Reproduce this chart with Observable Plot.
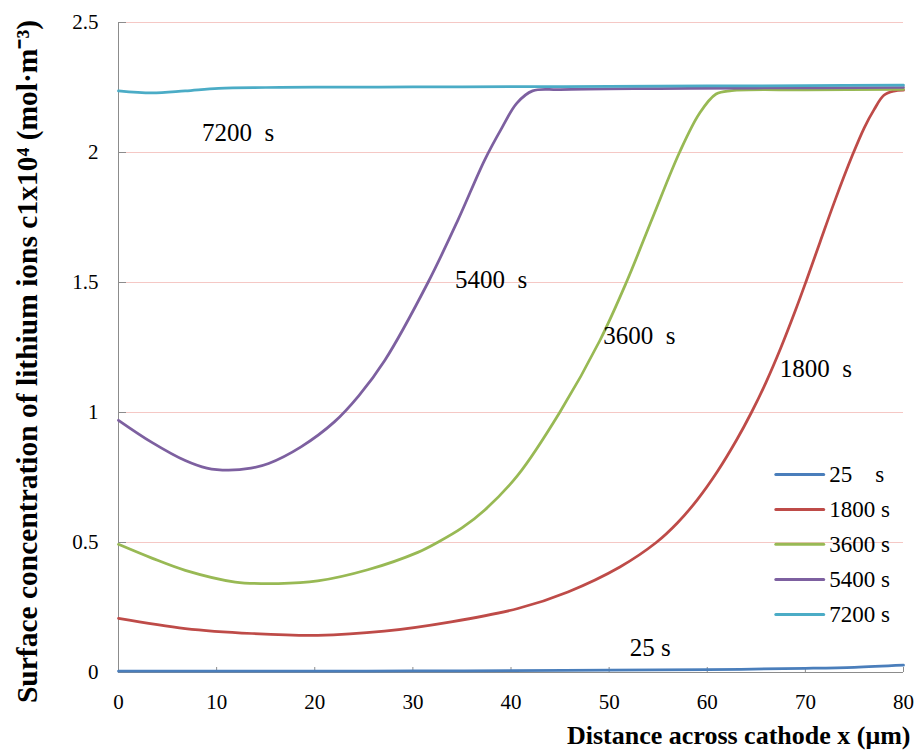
<!DOCTYPE html>
<html><head><meta charset="utf-8">
<script src="https://cdn.jsdelivr.net/npm/d3@7"></script>
<script src="https://cdn.jsdelivr.net/npm/@observablehq/plot@0.6"></script>
<style>
html,body{margin:0;padding:0;background:#fff;}
svg text{white-space:pre;}
</style></head><body><div id="chart"></div>
<script>
// ---- data ----
const NB = "\u00a0";
const seriesNames = ["25" + NB.repeat(4) + "s", "1800" + NB + "s", "3600" + NB + "s", "5400" + NB + "s", "7200" + NB + "s"];
const seriesColors = ["#4a7ebb", "#be4b48", "#98b954", "#7d60a0", "#4bacc6"];

const x25 = [0, 10, 20, 30, 40, 50, 60, 70, 75, 80];
const y25 = [0.005, 0.005, 0.005, 0.006, 0.007, 0.009, 0.011, 0.016, 0.02, 0.028];

const x1800 = [0, 6.8, 13.6, 20.3, 27.1, 33.9, 40.7, 45.8, 51.1, 54.8, 57, 59, 61, 63, 64.5, 66, 67.5, 69, 70.06, 71.5, 73, 74.8, 76, 77, 78, 79, 80];
const y1800 = [0.208, 0.169, 0.15, 0.143, 0.159, 0.195, 0.246, 0.31, 0.406, 0.5, 0.577, 0.665, 0.771, 0.895, 1.0, 1.117, 1.249, 1.394, 1.503, 1.656, 1.814, 1.99, 2.095, 2.165, 2.22, 2.236, 2.24];

const x3600 = [0, 3.4, 6.8, 11.9, 16.3, 20.3, 25.4, 30.5, 32.5, 35, 37.3, 40.7, 44.96, 49.03, 51.75, 54.46, 57.17, 59.2, 60.9, 62.5, 70, 80];
const y3600 = [0.493, 0.44, 0.393, 0.348, 0.342, 0.352, 0.395, 0.462, 0.5, 0.556, 0.624, 0.759, 1.0, 1.275, 1.5, 1.752, 2.0, 2.15, 2.225, 2.238, 2.241, 2.243];

const x5400 = [0, 3.4, 6.8, 9, 11.2, 13.5, 15.3, 18.6, 22.0, 24.5, 27.13, 31.54, 34.59, 37.3, 39.0, 40.6, 42.2, 45, 55, 65, 80];
const y5400 = [0.97, 0.885, 0.815, 0.786, 0.778, 0.786, 0.804, 0.868, 0.964, 1.065, 1.20, 1.50, 1.74, 1.97, 2.09, 2.19, 2.237, 2.242, 2.246, 2.248, 2.25];

const x7200 = [0, 3.4, 6.8, 10.2, 15, 20, 30, 40, 50, 60, 70, 80];
const y7200 = [2.237, 2.229, 2.237, 2.247, 2.25, 2.251, 2.252, 2.253, 2.254, 2.256, 2.257, 2.259];

const xTicks = [0, 10, 20, 30, 40, 50, 60, 70, 80];
const yTicks = [0, 0.5, 1, 1.5, 2, 2.5];

const annText = ["25" + NB + "s", "1800" + NB + NB + "s", "3600" + NB + NB + "s", "5400" + NB + NB + "s", "7200" + NB + NB + "s"];
const annX = [52.1, 67.4, 49.4, 34.3, 8.5];
const annY = [0.093, 1.167, 1.293, 1.509, 2.076];

const legendY = [0.762, 0.627, 0.493, 0.358, 0.223];

const yTitle = "Surface concentration of lithium ions c1x10\u2074 (mol\u00b7m\u207b\u00b3)";
const xTitle = "Distance across cathode x (\u03bcm)";

// ---- build tables ----
const FONT = "'Liberation Serif','Times New Roman',serif";
const xsAll = [x25, x1800, x3600, x5400, x7200];
const ysAll = [y25, y1800, y3600, y5400, y7200];
const rows = [];
seriesNames.forEach((s, i) => xsAll[i].forEach((x, j) => rows.push({series: s, x, y: ysAll[i][j]})));
const legendRows = seriesNames.map((s, i) => ({series: s, ly: legendY[i]}));
const annRows = annText.map((t, i) => ({t, x: annX[i], y: annY[i]}));

const chart = Plot.plot({
  width: 915,
  height: 756,
  marginLeft: 118,
  marginRight: 12,
  marginTop: 22,
  marginBottom: 84,
  style: {fontFamily: FONT, fontSize: "21px", color: "#000", background: "#fff"},
  x: {domain: [0, 80], ticks: xTicks, tickSize: 0, tickPadding: 22, label: null},
  y: {domain: [0, 2.5], ticks: yTicks, tickSize: 0, tickPadding: 20, tickFormat: d => String(d), label: null},
  color: {domain: seriesNames, range: seriesColors},
  marks: [
    Plot.ruleY(yTicks.filter(d => d > 0), {stroke: "#f5c8c5", strokeWidth: 1}),
    Plot.ruleX([0], {stroke: "#8c8c8c", strokeWidth: 1}),
    Plot.ruleY([0], {stroke: "#8c8c8c", strokeWidth: 1}),
    Plot.tickY(yTicks, {y: d => d, insetRight: 777, stroke: "#8c8c8c"}),
    Plot.tickX(xTicks, {x: d => d, insetTop: 645, stroke: "#8c8c8c"}),
    Plot.line(rows, {x: "x", y: "y", z: "series", stroke: "series", strokeWidth: 2.75, curve: "catmull-rom"}),
    Plot.ruleY(legendRows, {y: "ly", x1: 67.04, x2: 71.92, stroke: "series", strokeWidth: 3, strokeLinecap: "round"}),
    Plot.text(legendRows, {x: 72.43, y: "ly", text: "series", textAnchor: "start", fontSize: 23, fontFamily: FONT, fill: "#000"}),
    Plot.text(annRows, {x: "x", y: "y", text: "t", textAnchor: "start", fontSize: 25, fontFamily: FONT, fill: "#000"}),
    Plot.text([yTitle], {frameAnchor: "left", textAnchor: "middle", rotate: -90, dx: -91, dy: 14, fontSize: 29.5, fontWeight: "bold", fontFamily: FONT, fill: "#000"}),
    Plot.text([xTitle], {frameAnchor: "bottom-right", textAnchor: "end", dx: 7, dy: 71, fontSize: 26, fontWeight: "bold", fontFamily: FONT, fill: "#000"})
  ]
});
document.getElementById("chart").appendChild(chart);
</script>
</body></html>
